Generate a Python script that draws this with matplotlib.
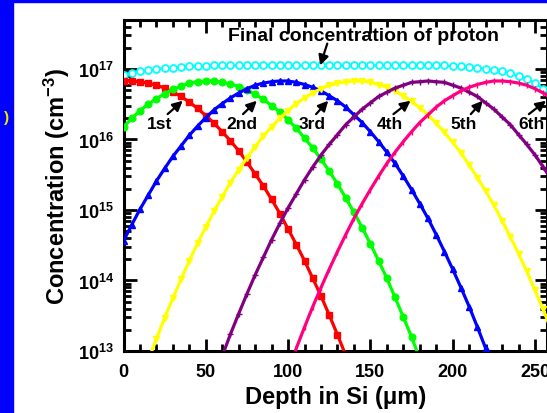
import numpy as np
import matplotlib
matplotlib.use("Agg")
import matplotlib.pyplot as plt
from matplotlib.ticker import FixedLocator, LogLocator, NullFormatter, MultipleLocator
from matplotlib.patches import Rectangle

plt.rcParams['font.family'] = ['Liberation Sans', 'DejaVu Sans']
plt.rcParams['font.weight'] = 'bold'
plt.rcParams['mathtext.fontset'] = 'custom'
plt.rcParams['mathtext.rm'] = 'Liberation Sans:bold'
plt.rcParams['mathtext.bf'] = 'Liberation Sans:bold'
plt.rcParams['mathtext.it'] = 'Liberation Sans:bold'

# ---- data: log10 of concentration (cm^-3) vs depth (um), 5 um steps ----
depth_1st = np.arange(0, 140, 5)
log_1st = [16.83, 16.83, 16.82, 16.80, 16.77, 16.73, 16.67, 16.61, 16.53, 16.44,
           16.34, 16.23, 16.11, 15.98, 15.84, 15.68, 15.51, 15.34, 15.15, 14.95,
           14.73, 14.51, 14.28, 14.03, 13.78, 13.51, 13.23, 12.94]

depth_2nd = np.arange(0, 185, 5)
log_2nd = [16.18, 16.30, 16.41, 16.50, 16.58, 16.65, 16.71, 16.76, 16.80, 16.82,
           16.83, 16.83, 16.81, 16.79, 16.75, 16.70, 16.64, 16.57, 16.48, 16.39,
           16.28, 16.16, 16.02, 15.88, 15.72, 15.55, 15.37, 15.17, 14.97, 14.75,
           14.52, 14.28, 14.03, 13.76, 13.48, 13.20, 12.89]

depth_3rd = np.arange(0, 230, 5)
log_3rd = [14.56, 14.79, 15.01, 15.21, 15.41, 15.59, 15.76, 15.91, 16.06, 16.19,
           16.31, 16.42, 16.51, 16.59, 16.66, 16.72, 16.77, 16.80, 16.82, 16.83,
           16.83, 16.81, 16.78, 16.74, 16.69, 16.62, 16.55, 16.46, 16.35, 16.24,
           16.11, 15.97, 15.82, 15.66, 15.48, 15.29, 15.09, 14.88, 14.65, 14.41,
           14.16, 13.90, 13.63, 13.34, 13.04, 12.73]

depth_4th = np.arange(15, 265, 5)
log_4th = [12.87, 13.17, 13.47, 13.75, 14.02, 14.28, 14.53, 14.76, 14.98, 15.19,
           15.39, 15.57, 15.74, 15.90, 16.05, 16.18, 16.30, 16.41, 16.51, 16.59,
           16.66, 16.72, 16.77, 16.80, 16.82, 16.83, 16.83, 16.81, 16.78, 16.74,
           16.69, 16.62, 16.54, 16.45, 16.35, 16.23, 16.10, 15.96, 15.81, 15.64,
           15.46, 15.27, 15.07, 14.85, 14.62, 14.38, 14.13, 13.86, 13.59, 13.29]

depth_5th = np.arange(60, 265, 5)
log_5th = [12.93, 13.24, 13.53, 13.81, 14.08, 14.33, 14.58, 14.81, 15.03, 15.23,
           15.43, 15.61, 15.78, 15.93, 16.07, 16.21, 16.32, 16.43, 16.52, 16.61,
           16.67, 16.73, 16.77, 16.81, 16.82, 16.83, 16.82, 16.81, 16.77, 16.73,
           16.67, 16.61, 16.52, 16.43, 16.32, 16.21, 16.07, 15.93, 15.78, 15.61,
           15.43]

depth_6th = np.arange(100, 265, 5)
log_6th = [12.73, 13.04, 13.34, 13.63, 13.90, 14.16, 14.41, 14.65, 14.88, 15.09,
           15.29, 15.48, 15.66, 15.82, 15.97, 16.11, 16.24, 16.35, 16.46, 16.55,
           16.62, 16.69, 16.74, 16.78, 16.81, 16.83, 16.83, 16.82, 16.80, 16.77,
           16.72, 16.66, 16.59]

depth_final = np.arange(0, 265, 5)
log_final = [16.92, 16.945, 16.97, 16.98, 17.00, 17.01, 17.02, 17.03, 17.04, 17.04,
             17.04, 17.05, 17.05, 17.05, 17.05, 17.05, 17.06, 17.06, 17.05, 17.05,
             17.06, 17.05, 17.05, 17.05, 17.05, 17.05, 17.05, 17.05, 17.05, 17.05,
             17.05, 17.05, 17.05, 17.05, 17.05, 17.05, 17.05, 17.05, 17.05, 17.05,
             17.04, 17.04, 17.03, 17.02, 17.00, 16.99, 16.97, 16.94, 16.90, 16.86,
             16.80, 16.72, 16.64]

y_major_exps = [13, 14, 15, 16, 17]
x_major_ticks = [0, 50, 100, 150, 200, 250]
labels = ['1st', '2nd', '3rd', '4th', '5th', '6th']

# ---- figure ----
fig = plt.figure(figsize=(5.47, 4.14), dpi=100)
fig.patches.append(Rectangle((0, 0), 13 / 547, 1, transform=fig.transFigure,
                             color='#0000ff', zorder=0))
fig.patches.append(Rectangle((0, 1 - 2.5 / 414), 1, 2.5 / 414, transform=fig.transFigure,
                             color='#0000ff', zorder=0))
fig.text(6.5 / 547, 1 - 118 / 414, ')', color='#e8e800', fontsize=11, ha='center',
         va='center', fontweight='bold')

ax = fig.add_axes([123.5 / 547, (414 - 352) / 414, (547 - 123.5) / 547, (352 - 21) / 414])

def conc(logs):
    return 10.0 ** np.asarray(logs)

lw = 2.3
ax.plot(depth_final, conc(log_final), color='#00ffff', lw=1.6, marker='o', ms=5,
        mfc='white', mec='#00ffff', mew=1.3, zorder=3)
ax.plot(depth_1st, conc(log_1st), color='#ff0000', lw=lw, marker='s', ms=4.5, zorder=4)
ax.plot(depth_2nd, conc(log_2nd), color='#00ff00', lw=lw, marker='o', ms=4.8, zorder=4)
ax.plot(depth_3rd, conc(log_3rd), color='#0000ff', lw=lw, marker='^', ms=5, zorder=4)
ax.plot(depth_4th, conc(log_4th), color='#ffff00', lw=lw, marker='v', ms=5, zorder=4)
ax.plot(depth_5th, conc(log_5th), color='#800080', lw=lw, marker='+', ms=4, mew=1.0, zorder=4)
ax.plot(depth_6th, conc(log_6th), color='#ff0080', lw=lw, marker='|', ms=4, mew=1.0, zorder=4)

ax.set_yscale('log')
ax.set_xlim(0, 257.3)
ax.set_ylim(1e13, 10 ** 17.695)

ax.yaxis.set_major_locator(FixedLocator([10.0 ** e for e in y_major_exps]))
ax.set_yticklabels([r'$\mathbf{10^{%d}}$' % e for e in y_major_exps])
ax.yaxis.set_minor_locator(LogLocator(base=10, subs=np.arange(2, 10)))
ax.yaxis.set_minor_formatter(NullFormatter())
ax.xaxis.set_major_locator(FixedLocator(x_major_ticks))
ax.set_xticklabels([str(v) for v in x_major_ticks])
ax.xaxis.set_minor_locator(MultipleLocator(10))

ax.tick_params(which='both', direction='in', top=True, right=True, width=2, colors='black')
ax.tick_params(which='major', length=9, labelsize=13)
ax.tick_params(axis='x', which='major', pad=9)
ax.tick_params(axis='y', which='major', pad=7)
ax.tick_params(which='minor', length=5)
for lab in ax.get_xticklabels() + ax.get_yticklabels():
    lab.set_fontweight('bold')
for s in ax.spines.values():
    s.set_linewidth(2.2)

ax.set_xlabel('Depth in Si (μm)', fontsize=17, fontweight='bold', labelpad=3)
ax.set_ylabel(r'Concentration (cm$^{\mathbf{-3}}$)', fontsize=17, fontweight='bold', labelpad=4)

# annotations
label_x = [22, 72, 114.6, 162, 206.7, 247.6]
tail_x = [26.8, 72.6, 117, 164, 211, 246.3]
head_x = [36, 81, 124.4, 174.4, 218.3, 256.7]
for lab, tx, ax0, hx in zip(labels, label_x, tail_x, head_x):
    ax.text(tx, 10 ** 16.23, lab, fontsize=12.5, fontweight='bold', ha='center', va='center',
            zorder=6)
    ax.annotate('', xy=(hx, 10 ** 16.55), xytext=(ax0, 10 ** 16.36),
                arrowprops=dict(arrowstyle='-|>', color='black', lw=1.6,
                                mutation_scale=15, shrinkA=0, shrinkB=0), zorder=6)

ax.text(146, 10 ** 17.47, 'Final concentration of proton', fontsize=14,
        fontweight='bold', ha='center', va='center', zorder=6)
ax.annotate('', xy=(119.5, 10 ** 17.05), xytext=(123.8, 10 ** 17.36),
            arrowprops=dict(arrowstyle='-|>', color='black', lw=1.6,
                            mutation_scale=15, shrinkA=0, shrinkB=0), zorder=6)

fig.savefig('out.png', dpi=100)
